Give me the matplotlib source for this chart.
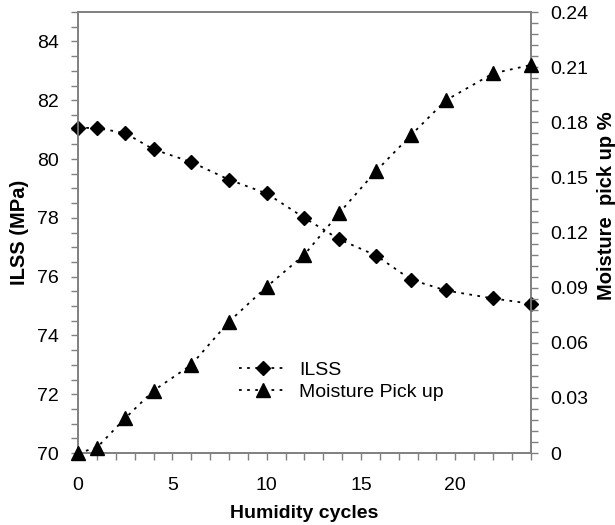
import numpy as np
import matplotlib.pyplot as plt
from matplotlib.ticker import MultipleLocator

plt.rcParams['font.family'] = ['Liberation Sans', 'DejaVu Sans']

# humidity cycles and measured values
cycles = [0, 1, 2.5, 4, 6, 8, 10, 12, 13.85, 15.8, 17.65, 19.5, 22, 24]
ilss = [81.06, 81.06, 80.88, 80.33, 79.9, 79.3, 78.83, 78.0, 77.27, 76.72, 75.9, 75.53, 75.26, 75.08]
moisture = [0.0, 0.003, 0.019, 0.034, 0.048, 0.0715, 0.0905, 0.108, 0.1307, 0.1535, 0.173, 0.192, 0.2066, 0.2112]

grey = '#808080'

fig = plt.figure(figsize=(6.15, 5.25), dpi=100)
ax = fig.add_axes([0.127, 0.137, 0.736, 0.840])
ax2 = ax.twinx()

l1, = ax.plot(cycles, ilss, ls=(0, (1.5, 3)), color='black', lw=1.3,
              marker='D', ms=7, label='ILSS', clip_on=False, zorder=3)
l2, = ax2.plot(cycles, moisture, ls=(0, (1.5, 3)), color='black', lw=1.3,
               marker='^', ms=10, label='Moisture Pick up', clip_on=False, zorder=3)

ax.set_xlim(0, 24)
ax.set_ylim(70, 85)
ax2.set_ylim(0, 0.24)

ax.xaxis.set_major_locator(MultipleLocator(5))
ax.xaxis.set_minor_locator(MultipleLocator(1))
ax.yaxis.set_major_locator(MultipleLocator(2))
ax.yaxis.set_minor_locator(MultipleLocator(0.5))
ax2.yaxis.set_major_locator(MultipleLocator(0.03))
ax2.yaxis.set_minor_locator(MultipleLocator(0.006))
ax2.yaxis.set_major_formatter(plt.FuncFormatter(lambda v, p: '0' if abs(v) < 1e-9 else f'{v:.2f}'))

for a in (ax, ax2):
    for s in a.spines.values():
        s.set_color(grey)
        s.set_linewidth(1.2)
    a.tick_params(which='both', direction='out', length=5, width=1, color=grey,
                  labelsize=14, pad=9)

ax.tick_params(axis='x', pad=12)
ax.tick_params(top=False, which='both')
ax2.tick_params(left=False, which='both')

ax.set_xlabel('Humidity cycles', fontsize=14, fontweight='bold', labelpad=8)
ax.set_ylabel('ILSS (MPa)', fontsize=14.5, fontweight='bold')
ax.yaxis.set_label_coords(-0.108, 0.5)
ax2.set_ylabel('Moisture  pick up %', fontsize=14.5, fontweight='bold')
ax2.yaxis.set_label_coords(1.147, 0.56)

ax2.legend([l1, l2], ['ILSS', 'Moisture Pick up'], frameon=False, fontsize=14,
           loc='center left', bbox_to_anchor=(0.355, 0.163), handlelength=2.5,
           handletextpad=0.6, labelspacing=0.25, borderaxespad=0, borderpad=0)

fig.savefig('out.png', dpi=100)
